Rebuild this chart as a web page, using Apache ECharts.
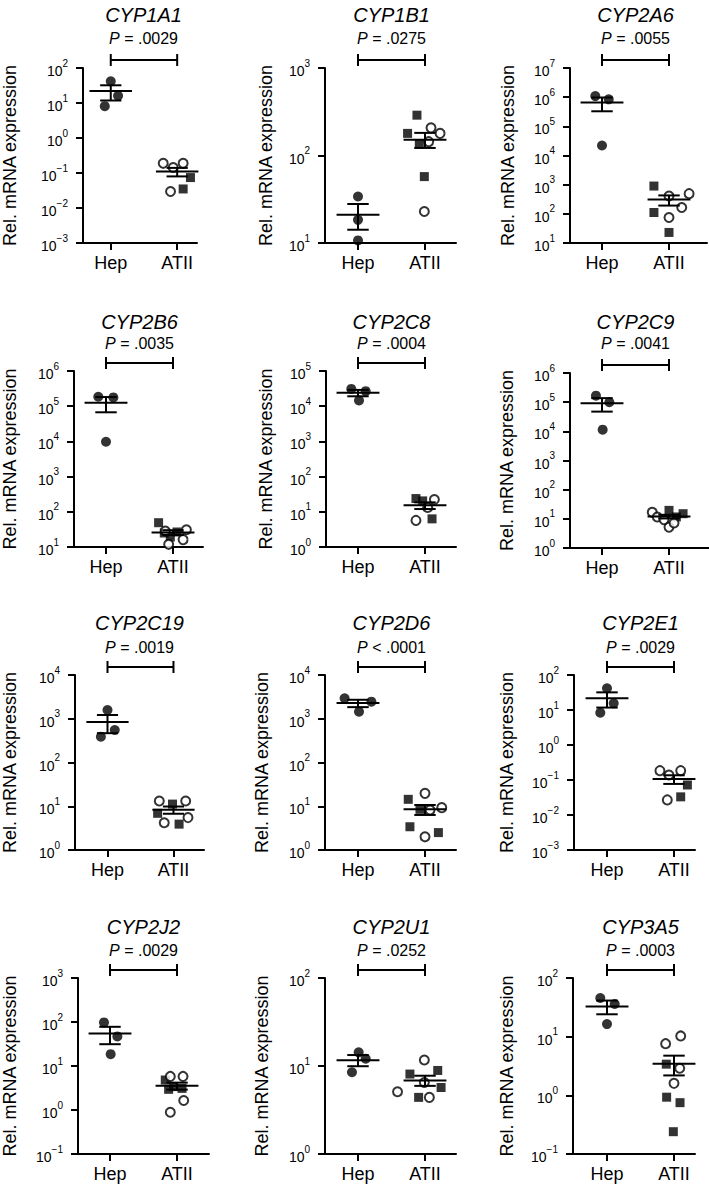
<!DOCTYPE html>
<html><head><meta charset="utf-8">
<script src="https://cdn.jsdelivr.net/npm/echarts@6/dist/echarts.min.js"></script>
<style>html,body{margin:0;padding:0;background:#fff}#c{width:709px;height:1186px}</style>
</head><body><div id="c"></div>
<script>
// ---------- DATA ----------
const genes = ['CYP1A1','CYP1B1','CYP2A6','CYP2B6','CYP2C8','CYP2C9','CYP2C19','CYP2D6','CYP2E1','CYP2J2','CYP2U1','CYP3A5'];
const groups = ['Hep','ATII'];
const pSign = ['=','=','=','=','=','=','=','<','=','=','=','='];
const pValues = ['.0029','.0275','.0055','.0035','.0004','.0041','.0019','.0001','.0029','.0029','.0252','.0003'];
const yMinExp = [-3, 1, 1, 1, 0, 0, 0, 0, -3, -1, 0, -1];
const yMaxExp = [ 2, 3, 7, 6, 5, 6, 4, 4,  2,  3, 2,  2];
const yTitle = 'Rel. mRNA expression';

// points: [horizontal jitter (in category widths), value]
const hepPoints = [
  [[0,41.7],[0.11,16],[-0.09,8.1]],
  [[0,34],[0,18.4],[0,10.7]],
  [[-0.1,1.09e6],[0.1,8.4e5],[0,2.2e4]],
  [[-0.115,1.86e5],[0.11,1.78e5],[0,9.8e3]],
  [[-0.1,3.1e4],[0.115,2.67e4],[0.015,1.45e4]],
  [[-0.09,1.67e5],[0.11,9.9e4],[0.01,1.14e4]],
  [[0,1585],[0.11,553],[-0.1,389]],
  [[-0.2,2930],[0.2,2455],[0.015,1452]],
  [[0,41.6],[0.1,15.5],[-0.1,8.4]],
  [[-0.09,98],[0.11,47],[0.01,18.6]],
  [[0.01,14.3],[0.115,12.1],[-0.09,8.5]],
  [[-0.1,45.6],[0.115,36],[0,16.4]]
];
const atiiOpen = [
  [[-0.21,0.189],[-0.06,0.143],[0.09,0.189],[-0.1,0.0295]],
  [[0.09,207],[0.225,179],[0.055,144],[-0.01,22.9]],
  [[0,409],[0.3,492],[0.19,164],[0,75]],
  [[-0.115,28.5],[-0.065,11.9],[0.15,16.2],[0.2,31]],
  [[0.14,22.2],[0.04,13.2],[-0.135,5.7]],
  [[-0.25,16.7],[-0.175,11.6],[0,5.2],[0.075,7.2],[-0.075,9.4]],
  [[-0.215,13.2],[0.185,13.2],[0.22,5.5],[-0.14,4.2]],
  [[0,19.7],[0.25,9.3],[0.075,8.2],[0,2.0]],
  [[-0.21,0.185],[-0.075,0.139],[0.1,0.185],[-0.1,0.027]],
  [[-0.1,5.8],[0.09,5.8],[0.1,1.64],[-0.1,0.89]],
  [[-0.01,11.7],[-0.41,5.1],[-0.01,6.5],[0.065,4.4]],
  [[-0.125,7.6],[0.1,10.3],[0.085,2.9],[0,1.6]]
];
const atiiSquare = [
  [[0.2,0.074],[0.09,0.035]],
  [[-0.12,289],[-0.26,179],[-0.085,135],[-0.01,57.4]],
  [[-0.225,896],[-0.225,111],[0,23]],
  [[-0.215,49],[-0.13,25],[0.06,26.7],[-0.04,19.3]],
  [[-0.135,23.8],[-0.035,20.4],[0.105,6.3]],
  [[0,19.5],[0.21,15],[0.11,11.6]],
  [[-0.015,11.2],[-0.24,6.9],[0.085,3.9]],
  [[-0.25,14.4],[-0.075,8.5],[-0.225,3.4],[0.2,2.5]],
  [[0.2,0.072],[0.1,0.033]],
  [[-0.175,4.8],[-0.05,3.4],[0.075,3.1],[-0.125,2.95]],
  [[-0.225,8.1],[0.19,8.9],[0.24,5.7],[-0.095,4.4]],
  [[-0.115,3.4],[-0.11,0.93],[0.09,0.75],[-0.01,0.24]]
];

// ---------- LAYOUT ----------
const gridLeft    = [82, 325, 570, 74, 326, 570, 73, 325, 574, 78, 325, 573];
const gridTop     = [68, 68, 68, 371, 371, 373, 675, 675, 675, 978, 978, 978];
const gridBottomY = [243, 243, 243, 547, 547, 548, 850, 850, 850, 1154, 1154, 1154];
const gridRightX  = [197, 456, 707, 203, 456, 709, 204, 456, 695, 209, 456, 695];
const hepPixX     = [110, 358, 602, 106, 358, 602, 106, 358, 607, 110, 358, 607];
const nameGaps    = [64, 50, 53, 55, 51, 54, 56, 54, 58, 59, 54, 57];
const rowTitleY   = [15, 322, 623, 927];
const rowPY       = [38, 343, 647, 950];
const UNIT = 67;
const FONT = "'Liberation Sans', Arial, Helvetica, sans-serif";

function meanSem(vals){
  const n = vals.length, m = vals.reduce((a,b)=>a+b,0)/n;
  const sd = Math.sqrt(vals.reduce((a,b)=>a+(b-m)*(b-m),0)/(n-1));
  return [m, sd/Math.sqrt(n)];
}
function supText(e){ return String(e).replace('-', '\u2212'); }

const grids=[], xAxes=[], yAxes=[], series=[], graphics=[];
genes.forEach((g,i)=>{
  const left=gridLeft[i], top=gridTop[i];
  grids.push({left, top, width: gridRightX[i]-left, height: gridBottomY[i]-top});
  const xMin = -(hepPixX[i]-left)/UNIT, xMax = (gridRightX[i]-hepPixX[i])/UNIT;
  const ax = {color:'#000', width:2};
  xAxes.push({gridIndex:i, type:'value', min:xMin, max:xMax,
    axisLine:{show:true, onZero:false, lineStyle:ax},
    axisTick:{show:true, customValues:[0,1], length:7, lineStyle:ax},
    axisLabel:{customValues:[0,1], formatter:v=>groups[Math.round(v)], margin:11, fontSize:18, color:'#000', fontFamily:FONT},
    splitLine:{show:false}});
  const yMax = Math.pow(10,yMaxExp[i]);
  yAxes.push({gridIndex:i, type:'log', logBase:10, min:Math.pow(10,yMinExp[i]), max:yMax,
    name:yTitle, nameLocation:'middle', nameGap:nameGaps[i],
    nameTextStyle:{fontSize:18, color:'#000', fontFamily:FONT},
    axisLine:{show:true, onZero:false, lineStyle:ax},
    axisTick:{show:true, length:7, lineStyle:ax},
    minorTick:{show:false}, splitLine:{show:false},
    axisLabel:{margin:15, color:'#000', fontFamily:FONT,
      formatter:v=>'{b|10}{s|'+supText(Math.round(Math.log10(v)))+'}',
      rich:{b:{fontSize:14, fontFamily:FONT, color:'#000', verticalAlign:'bottom', lineHeight:20},
            s:{fontSize:10, fontFamily:FONT, color:'#000', verticalAlign:'top', lineHeight:12}}}});

  series.push({type:'scatter', xAxisIndex:i, yAxisIndex:i, symbol:'circle', symbolSize:10,
    itemStyle:{color:'#000'}, data:hepPoints[i].map(p=>[0+p[0],p[1]]), z:2, silent:true});
  series.push({type:'scatter', xAxisIndex:i, yAxisIndex:i, symbol:'rect', symbolSize:9,
    itemStyle:{color:'#000'}, data:atiiSquare[i].map(p=>[1+p[0],p[1]]), z:2, silent:true});
  series.push({type:'scatter', xAxisIndex:i, yAxisIndex:i, symbol:'circle', symbolSize:9,
    itemStyle:{color:'#fff', borderColor:'#000', borderWidth:2}, data:atiiOpen[i].map(p=>[1+p[0],p[1]]), z:2, silent:true});

  const hs = meanSem(hepPoints[i].map(p=>p[1]));
  const as = meanSem(atiiOpen[i].concat(atiiSquare[i]).map(p=>p[1]));
  const lo = Math.pow(10,yMinExp[i]);
  series.push({type:'custom', xAxisIndex:i, yAxisIndex:i, z:5, silent:true, clip:false,
    data:[[0,hs[0],hs[1]],[1,as[0],as[1]]],
    renderItem:(params,api)=>{
      const x=api.value(0), m=api.value(1), s=api.value(2);
      const pm=api.coord([x,m]), pu=api.coord([x,m+s]), pl=api.coord([x,Math.max(m-s,lo)]);
      const u = api.coord([x+1,m])[0]-pm[0];
      const hw=0.32*u, cw=0.16*u;
      const st={stroke:'#000', lineWidth:2};
      return {type:'group', children:[
        {type:'line', shape:{x1:pm[0]-hw,y1:pm[1],x2:pm[0]+hw,y2:pm[1]}, style:st},
        {type:'line', shape:{x1:pm[0],y1:pu[1],x2:pm[0],y2:pl[1]}, style:st},
        {type:'line', shape:{x1:pm[0]-cw,y1:pu[1],x2:pm[0]+cw,y2:pu[1]}, style:st},
        {type:'line', shape:{x1:pm[0]-cw,y1:pl[1],x2:pm[0]+cw,y2:pl[1]}, style:st}
      ]};
    }});
  // significance bracket between the two groups
  series.push({type:'custom', xAxisIndex:i, yAxisIndex:i, z:5, silent:true, clip:false,
    data:[[0,yMax,1]],
    renderItem:(params,api)=>{
      const a=api.coord([api.value(0),api.value(1)]), b=api.coord([api.value(2),api.value(1)]);
      const y=a[1]-8, st={stroke:'#000', lineWidth:2};
      return {type:'group', children:[
        {type:'line', shape:{x1:a[0],y1:y,x2:b[0],y2:y}, style:st},
        {type:'line', shape:{x1:a[0],y1:y-6,x2:a[0],y2:y+6}, style:st},
        {type:'line', shape:{x1:b[0],y1:y-6,x2:b[0],y2:y+6}, style:st}
      ]};
    }});

  const cx = hepPixX[i] + UNIT/2, row = Math.floor(i/3);
  graphics.push({type:'text', x:cx, y:rowTitleY[row], silent:true,
    style:{text:g, align:'center', verticalAlign:'middle', fontSize:20, fontStyle:'italic', fontFamily:FONT, fill:'#000'}});
  graphics.push({type:'text', x:cx, y:rowPY[row], silent:true,
    style:{text:'{i|P} '+pSign[i]+' '+pValues[i], align:'center', verticalAlign:'middle', fontSize:16, fontFamily:FONT, fill:'#000',
      rich:{i:{fontStyle:'italic', fontSize:16, fontFamily:FONT, fill:'#000'}}}});
});

const chart = echarts.init(document.getElementById('c'), null, {renderer:'svg'});
chart.setOption({animation:false, backgroundColor:'#fff', grid:grids, xAxis:xAxes, yAxis:yAxes, series, graphic:graphics});
</script></body></html>
